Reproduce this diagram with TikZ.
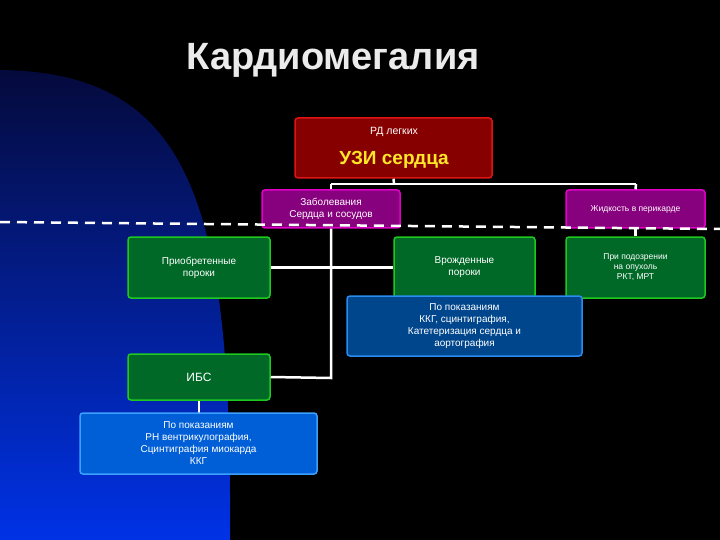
\documentclass[tikz,border=0pt]{standalone}
\usepackage{fontspec}
\setmainfont{Liberation Sans}
\begin{document}
\begin{tikzpicture}[x=1pt,y=-1pt,
 box/.style={rounded corners=3pt,line width=1.5pt,text=white,align=center,font=\fontsize{10}{12}\selectfont,inner sep=1pt},
 redb/.style={box,draw={rgb,255:red,220;green,20;blue,20},fill={rgb,255:red,135;green,0;blue,0}},
 magb/.style={box,draw={rgb,255:red,225;green,0;blue,200},fill={rgb,255:red,135;green,0;blue,125}},
 grnb/.style={box,draw={rgb,255:red,30;green,200;blue,30},fill={rgb,255:red,0;green,105;blue,40}},
 blub/.style={box,draw={rgb,255:red,40;green,140;blue,240},fill={rgb,255:red,0;green,70;blue,140}},
 blub2/.style={box,draw={rgb,255:red,60;green,160;blue,255},fill={rgb,255:red,0;green,95;blue,215}},
 wire/.style={draw=white,line width=2.5pt}]
\fill[black] (0,0) rectangle (720,540);
\useasboundingbox (0,0) rectangle (720,540);
\shade[top color={rgb,255:red,5;green,10;blue,60},bottom color={rgb,255:red,0;green,50;blue,230}]
 (0,70) .. controls (195,72) and (232,210) .. (230,540) -- (0,540) -- cycle;
\node[text={rgb,255:red,235;green,235;blue,235},font=\fontsize{38}{42}\bfseries\selectfont] (title) at (333,60) {Кардиомегалия};
\node[redb,minimum width=197pt,minimum height=60pt] (uzi) at (393.5,148) {};
\node (rd) at (394,132) [text=white,font=\fontsize{10.5}{12}\selectfont] {РД легких};
\node (uz) at (394,160) [text={rgb,255:red,255;green,230;blue,40},font=\fontsize{19}{22}\bfseries\selectfont] {УЗИ сердца};
\node[magb,minimum width=138pt,minimum height=38pt] (zab) at (331,209) {Заболевания\\Сердца и сосудов};
\node[magb,minimum width=139pt,minimum height=38pt,font=\fontsize{8.5}{10}\selectfont] (zhid) at (635.5,209) {Жидкость в перикарде};
\draw[white,line width=2.5pt,dash pattern=on 10pt off 7pt] (0,222) -- (720,229);
\node[grnb,minimum width=142pt,minimum height=61pt] (pri) at (199,267.5) {Приобретенные\\пороки};
\node[grnb,minimum width=141pt,minimum height=61pt] (vro) at (464.5,267.5) {Врожденные\\пороки};
\node[grnb,minimum width=139pt,minimum height=61pt,font=\fontsize{8.5}{10}\selectfont] (pod) at (635.5,267.5) {При подозрении\\на опухоль\\РКТ, МРТ};
\draw[wire] (uzi.south) -- (394,184);
\draw[wire] (331,184) -- (636,184);
\draw[wire] (331,184) -- (zab.north);
\draw[wire] (636,184) -- (zhid.north);
\draw[wire] (zhid.south) -- (pod.north);
\node[grnb,minimum width=142pt,minimum height=46pt,font=\fontsize{12}{14}\selectfont] (ibs) at (199,377) {ИБС};
\draw[wire] (zab.south) -- (331,378) -- (ibs.east);
\draw[wire] (pri.east) -- (vro.west);
\draw[wire] (vro.south) -- (464.5,300);
\node[blub,minimum width=235pt,minimum height=60pt] (ppk) at (464.5,326) {По показаниям\\ККГ, сцинтиграфия,\\Катетеризация сердца и\\аортография};
\draw[wire] (ibs.south) -- (199,413);
\node[blub2,minimum width=237pt,minimum height=61pt] (ppr) at (198.5,443.5) {По показаниям\\РН вентрикулография,\\Сцинтиграфия миокарда\\ККГ};
\end{tikzpicture}
\end{document}
